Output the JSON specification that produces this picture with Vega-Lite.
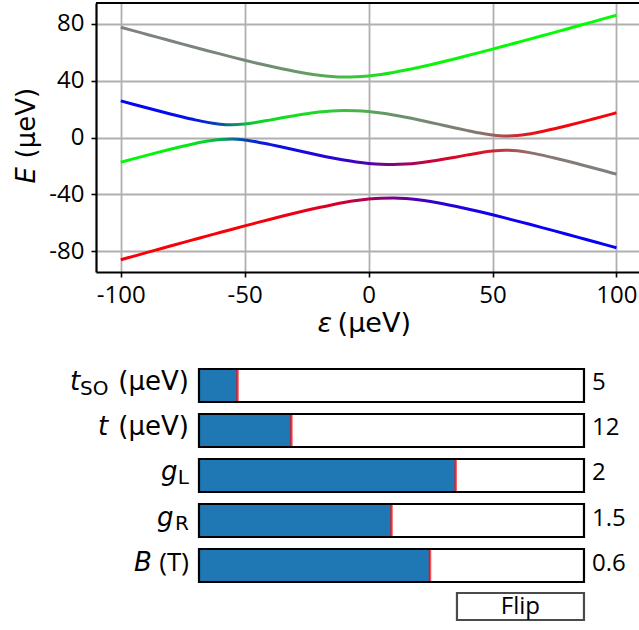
{
  "$schema": "https://vega.github.io/schema/vega-lite/v6.json",
  "padding": {"left": 0, "top": 1, "right": 0, "bottom": 0},
  "spacing": 26,
  "config": {"view": {"stroke": null}, "font": "Open Sans"},
  "datasets": {
    "lines": [
      {"e":-100,"b":1,"E":77.75},{"e":-100,"b":2,"E":25.85},{"e":-100,"b":3,"E":-17.41},{"e":-100,"b":4,"E":-86.19},
      {"e":-95,"b":1,"E":75.34},{"e":-95,"b":2,"E":23.48},{"e":-95,"b":3,"E":-15.06},{"e":-95,"b":4,"E":-83.76},
      {"e":-90,"b":1,"E":72.95},{"e":-90,"b":2,"E":21.14},{"e":-90,"b":3,"E":-12.76},{"e":-90,"b":4,"E":-81.33},
      {"e":-85,"b":1,"E":70.56},{"e":-85,"b":2,"E":18.84},{"e":-85,"b":3,"E":-10.49},{"e":-85,"b":4,"E":-78.91},
      {"e":-80,"b":1,"E":68.19},{"e":-80,"b":2,"E":16.59},{"e":-80,"b":3,"E":-8.28},{"e":-80,"b":4,"E":-76.50},
      {"e":-75,"b":1,"E":65.83},{"e":-75,"b":2,"E":14.43},{"e":-75,"b":3,"E":-6.17},{"e":-75,"b":4,"E":-74.10},
      {"e":-70,"b":1,"E":63.50},{"e":-70,"b":2,"E":12.41},{"e":-70,"b":3,"E":-4.21},{"e":-70,"b":4,"E":-71.71},
      {"e":-65,"b":1,"E":61.19},{"e":-65,"b":2,"E":10.65},{"e":-65,"b":3,"E":-2.52},{"e":-65,"b":4,"E":-69.33},
      {"e":-60,"b":1,"E":58.92},{"e":-60,"b":2,"E":9.39},{"e":-60,"b":3,"E":-1.34},{"e":-60,"b":4,"E":-66.97},
      {"e":-55,"b":1,"E":56.68},{"e":-55,"b":2,"E":8.97},{"e":-55,"b":3,"E":-1.03},{"e":-55,"b":4,"E":-64.62},
      {"e":-50,"b":1,"E":54.50},{"e":-50,"b":2,"E":9.53},{"e":-50,"b":3,"E":-1.72},{"e":-50,"b":4,"E":-62.30},
      {"e":-45,"b":1,"E":52.38},{"e":-45,"b":2,"E":10.74},{"e":-45,"b":3,"E":-3.11},{"e":-45,"b":4,"E":-60.01},
      {"e":-40,"b":1,"E":50.35},{"e":-40,"b":2,"E":12.26},{"e":-40,"b":3,"E":-4.85},{"e":-40,"b":4,"E":-57.76},
      {"e":-35,"b":1,"E":48.44},{"e":-35,"b":2,"E":13.86},{"e":-35,"b":3,"E":-6.75},{"e":-35,"b":4,"E":-55.55},
      {"e":-30,"b":1,"E":46.69},{"e":-30,"b":2,"E":15.40},{"e":-30,"b":3,"E":-8.69},{"e":-30,"b":4,"E":-53.40},
      {"e":-25,"b":1,"E":45.15},{"e":-25,"b":2,"E":16.79},{"e":-25,"b":3,"E":-10.63},{"e":-25,"b":4,"E":-51.32},
      {"e":-20,"b":1,"E":43.92},{"e":-20,"b":2,"E":17.93},{"e":-20,"b":3,"E":-12.50},{"e":-20,"b":4,"E":-49.35},
      {"e":-15,"b":1,"E":43.06},{"e":-15,"b":2,"E":18.70},{"e":-15,"b":3,"E":-14.26},{"e":-15,"b":4,"E":-47.51},
      {"e":-10,"b":1,"E":42.67},{"e":-10,"b":2,"E":19.04},{"e":-10,"b":3,"E":-15.85},{"e":-10,"b":4,"E":-45.86},
      {"e":-5,"b":1,"E":42.79},{"e":-5,"b":2,"E":18.88},{"e":-5,"b":3,"E":-17.21},{"e":-5,"b":4,"E":-44.46},
      {"e":0,"b":1,"E":43.41},{"e":0,"b":2,"E":18.25},{"e":0,"b":3,"E":-18.25},{"e":0,"b":4,"E":-43.41},
      {"e":5,"b":1,"E":44.46},{"e":5,"b":2,"E":17.21},{"e":5,"b":3,"E":-18.88},{"e":5,"b":4,"E":-42.79},
      {"e":10,"b":1,"E":45.86},{"e":10,"b":2,"E":15.85},{"e":10,"b":3,"E":-19.04},{"e":10,"b":4,"E":-42.67},
      {"e":15,"b":1,"E":47.51},{"e":15,"b":2,"E":14.26},{"e":15,"b":3,"E":-18.70},{"e":15,"b":4,"E":-43.06},
      {"e":20,"b":1,"E":49.35},{"e":20,"b":2,"E":12.50},{"e":20,"b":3,"E":-17.93},{"e":20,"b":4,"E":-43.92},
      {"e":25,"b":1,"E":51.32},{"e":25,"b":2,"E":10.63},{"e":25,"b":3,"E":-16.79},{"e":25,"b":4,"E":-45.15},
      {"e":30,"b":1,"E":53.40},{"e":30,"b":2,"E":8.69},{"e":30,"b":3,"E":-15.40},{"e":30,"b":4,"E":-46.69},
      {"e":35,"b":1,"E":55.55},{"e":35,"b":2,"E":6.75},{"e":35,"b":3,"E":-13.86},{"e":35,"b":4,"E":-48.44},
      {"e":40,"b":1,"E":57.76},{"e":40,"b":2,"E":4.85},{"e":40,"b":3,"E":-12.26},{"e":40,"b":4,"E":-50.35},
      {"e":45,"b":1,"E":60.01},{"e":45,"b":2,"E":3.11},{"e":45,"b":3,"E":-10.74},{"e":45,"b":4,"E":-52.38},
      {"e":50,"b":1,"E":62.30},{"e":50,"b":2,"E":1.72},{"e":50,"b":3,"E":-9.53},{"e":50,"b":4,"E":-54.50},
      {"e":55,"b":1,"E":64.62},{"e":55,"b":2,"E":1.03},{"e":55,"b":3,"E":-8.97},{"e":55,"b":4,"E":-56.68},
      {"e":60,"b":1,"E":66.97},{"e":60,"b":2,"E":1.34},{"e":60,"b":3,"E":-9.39},{"e":60,"b":4,"E":-58.92},
      {"e":65,"b":1,"E":69.33},{"e":65,"b":2,"E":2.52},{"e":65,"b":3,"E":-10.65},{"e":65,"b":4,"E":-61.19},
      {"e":70,"b":1,"E":71.71},{"e":70,"b":2,"E":4.21},{"e":70,"b":3,"E":-12.41},{"e":70,"b":4,"E":-63.50},
      {"e":75,"b":1,"E":74.10},{"e":75,"b":2,"E":6.17},{"e":75,"b":3,"E":-14.43},{"e":75,"b":4,"E":-65.83},
      {"e":80,"b":1,"E":76.50},{"e":80,"b":2,"E":8.28},{"e":80,"b":3,"E":-16.59},{"e":80,"b":4,"E":-68.19},
      {"e":85,"b":1,"E":78.91},{"e":85,"b":2,"E":10.49},{"e":85,"b":3,"E":-18.84},{"e":85,"b":4,"E":-70.56},
      {"e":90,"b":1,"E":81.33},{"e":90,"b":2,"E":12.76},{"e":90,"b":3,"E":-21.14},{"e":90,"b":4,"E":-72.95},
      {"e":95,"b":1,"E":83.76},{"e":95,"b":2,"E":15.06},{"e":95,"b":3,"E":-23.48},{"e":95,"b":4,"E":-75.34},
      {"e":100,"b":1,"E":86.19},{"e":100,"b":2,"E":17.41},{"e":100,"b":3,"E":-25.85},{"e":100,"b":4,"E":-77.75}
    ],
    "sliders": [
      {"p":"tSO","v":5,"vmax":50},
      {"p":"t","v":12,"vmax":50},
      {"p":"gL","v":2,"vmax":3},
      {"p":"gR","v":1.5,"vmax":3},
      {"p":"B","v":0.6,"vmax":1}
    ],
    "labels": [
      {"p":"tSO","part":"sym","s":"t"},
      {"p":"tSO","part":"sub","s":"SO"},
      {"p":"tSO","part":"unit","s":"(μeV)"},
      {"p":"t","part":"sym","s":"t"},
      {"p":"t","part":"unit","s":"(μeV)"},
      {"p":"gL","part":"sym","s":"g"},
      {"p":"gL","part":"sub","s":"L"},
      {"p":"gR","part":"sym","s":"g"},
      {"p":"gR","part":"sub","s":"R"},
      {"p":"B","part":"sym","s":"B"},
      {"p":"B","part":"unit","s":"(T)"}
    ],
    "button": [{"p":"Flip","s":"Flip"}]
  },
  "vconcat": [
    {
      "width": 543,
      "height": 269,
      "layer": [
        {
          "data": {"name": "lines"},
          "transform": [{"filter": "datum.b == 1"}],
          "mark": {"type": "line", "strokeWidth": 3, "interpolate": "monotone",
            "stroke": {"gradient": "linear", "x1": 0, "y1": 0, "x2": 1, "y2": 0, "stops": [
              {"offset":0,"color":"#7d827d"},{"offset":0.125,"color":"#7c837c"},{"offset":0.25,"color":"#778877"},
              {"offset":0.35,"color":"#6a956a"},{"offset":0.4,"color":"#5ba45b"},{"offset":0.45,"color":"#43bc43"},
              {"offset":0.5,"color":"#2ad52a"},{"offset":0.55,"color":"#19e619"},{"offset":0.6,"color":"#0ff00f"},
              {"offset":0.65,"color":"#0af50a"},{"offset":0.75,"color":"#05fa05"},{"offset":1,"color":"#02fd02"}]}},
          "encoding": {
            "x": {"field": "e", "type": "quantitative",
              "scale": {"domain": [-110, 109.1], "nice": false, "zero": false},
              "axis": {"values": [-100, -50, 0, 50, 100], "title": null, "grid": true, "gridColor": "#b0b0b0", "gridWidth": 1.8,
                "domainColor": "black", "domainWidth": 2.2, "tickColor": "black", "tickSize": 5, "tickWidth": 1.6,
                "labelFont": "Open Sans", "labelFontSize": 24, "labelColor": "black", "labelPadding": 6,
                "labelFlush": false, "labelOverlap": false,
                "labelExpr": "datum.value < 0 ? '-' + (-datum.value) : '' + datum.value"}},
            "y": {"field": "E", "type": "quantitative",
              "scale": {"domain": [-94.8, 94.8], "nice": false, "zero": false},
              "axis": {"values": [-80, -40, 0, 40, 80], "title": null, "grid": true, "gridColor": "#b0b0b0", "gridWidth": 1.8,
                "domainColor": "black", "domainWidth": 2.2, "tickColor": "black", "tickSize": 5, "tickWidth": 1.6,
                "labelFont": "Open Sans", "labelFontSize": 24, "labelColor": "black", "labelPadding": 7,
                "labelOverlap": false, "minExtent": 96, "maxExtent": 96,
                "labelExpr": "datum.value < 0 ? '-' + (-datum.value) : '' + datum.value"}}
          }
        },
        {
          "data": {"name": "lines"},
          "transform": [{"filter": "datum.b == 2"}],
          "mark": {"type": "line", "strokeWidth": 3, "interpolate": "monotone",
            "stroke": {"gradient": "linear", "x1": 0, "y1": 0, "x2": 1, "y2": 0, "stops": [
              {"offset":0,"color":"#0304f9"},{"offset":0.1,"color":"#040bf0"},{"offset":0.15,"color":"#0519e1"},
              {"offset":0.175,"color":"#062bce"},{"offset":0.2,"color":"#074fab"},{"offset":0.225,"color":"#088477"},
              {"offset":0.25,"color":"#09b448"},{"offset":0.275,"color":"#0bcf2e"},{"offset":0.3,"color":"#0ddb22"},
              {"offset":0.35,"color":"#15df1f"},{"offset":0.4,"color":"#24d529"},{"offset":0.45,"color":"#3cbf3f"},
              {"offset":0.5,"color":"#55a757"},{"offset":0.55,"color":"#679567"},{"offset":0.6,"color":"#728b70"},
              {"offset":0.65,"color":"#7a8373"},{"offset":0.7,"color":"#837a70"},{"offset":0.725,"color":"#8b716b"},
              {"offset":0.75,"color":"#9a615e"},{"offset":0.775,"color":"#b24648"},{"offset":0.8,"color":"#cd2a30"},
              {"offset":0.825,"color":"#e0171e"},{"offset":0.85,"color":"#ea0d14"},{"offset":0.9,"color":"#f3050c"},
              {"offset":1,"color":"#f90206"}]}},
          "encoding": {"x": {"field": "e", "type": "quantitative"}, "y": {"field": "E", "type": "quantitative"}}
        },
        {
          "data": {"name": "lines"},
          "transform": [{"filter": "datum.b == 3"}],
          "mark": {"type": "line", "strokeWidth": 3, "interpolate": "monotone",
            "stroke": {"gradient": "linear", "x1": 0, "y1": 0, "x2": 1, "y2": 0, "stops": [
              {"offset":0,"color":"#02f906"},{"offset":0.1,"color":"#03f10e"},{"offset":0.15,"color":"#05e21d"},
              {"offset":0.175,"color":"#05ce30"},{"offset":0.2,"color":"#06aa53"},{"offset":0.225,"color":"#087487"},
              {"offset":0.25,"color":"#0942b6"},{"offset":0.275,"color":"#0b25d0"},{"offset":0.3,"color":"#0d16dd"},
              {"offset":0.35,"color":"#130ae2"},{"offset":0.4,"color":"#1e06dc"},{"offset":0.45,"color":"#3104cb"},
              {"offset":0.5,"color":"#5403a9"},{"offset":0.55,"color":"#860378"},{"offset":0.6,"color":"#b4044a"},
              {"offset":0.65,"color":"#d0062e"},{"offset":0.7,"color":"#db0c23"},{"offset":0.725,"color":"#d91425"},
              {"offset":0.75,"color":"#cf242e"},{"offset":0.775,"color":"#ba3d41"},{"offset":0.8,"color":"#a25a58"},
              {"offset":0.825,"color":"#916c69"},{"offset":0.85,"color":"#897571"},{"offset":0.9,"color":"#827c78"},
              {"offset":1,"color":"#807f7c"}]}},
          "encoding": {"x": {"field": "e", "type": "quantitative"}, "y": {"field": "E", "type": "quantitative"}}
        },
        {
          "data": {"name": "lines"},
          "transform": [{"filter": "datum.b == 4"}],
          "mark": {"type": "line", "strokeWidth": 3, "interpolate": "monotone",
            "stroke": {"gradient": "linear", "x1": 0, "y1": 0, "x2": 1, "y2": 0, "stops": [
              {"offset":0,"color":"#fc0003"},{"offset":0.125,"color":"#fa0005"},{"offset":0.25,"color":"#f60009"},
              {"offset":0.35,"color":"#ec0013"},{"offset":0.4,"color":"#e1001e"},{"offset":0.45,"color":"#ce0031"},
              {"offset":0.5,"color":"#ab0054"},{"offset":0.55,"color":"#790086"},{"offset":0.6,"color":"#4900b6"},
              {"offset":0.65,"color":"#2b00d4"},{"offset":0.75,"color":"#1100ee"},{"offset":0.875,"color":"#0800f7"},
              {"offset":1,"color":"#0400fb"}]}},
          "encoding": {"x": {"field": "e", "type": "quantitative"}, "y": {"field": "E", "type": "quantitative"}}
        },
        {
          "data": {"values": [{}]},
          "mark": {"type": "rule", "color": "black", "strokeWidth": 2.2},
          "encoding": {"y": {"datum": 94.8, "type": "quantitative"}}
        },
        {
          "data": {"values": [{}]},
          "mark": {"type": "text", "text": "E", "font": "DejaVu Sans", "fontStyle": "italic", "fontSize": 26, "angle": 270,
            "align": "left", "baseline": "alphabetic", "dx": -46, "dy": -61, "color": "black"},
          "encoding": {"x": {"datum": -110, "type": "quantitative"}, "y": {"datum": 0, "type": "quantitative"}}
        },
        {
          "data": {"values": [{}]},
          "mark": {"type": "text", "text": "(μeV)", "font": "DejaVu Sans", "fontSize": 26, "angle": 270,
            "align": "left", "baseline": "alphabetic", "dx": -21, "dy": -61, "color": "black"},
          "encoding": {"x": {"datum": -110, "type": "quantitative"}, "y": {"datum": 0, "type": "quantitative"}}
        },
        {
          "data": {"values": [{}]},
          "mark": {"type": "text", "text": "ε", "font": "DejaVu Sans", "fontStyle": "italic", "fontSize": 27,
            "align": "left", "baseline": "alphabetic", "dx": -51, "dy": 60, "color": "black"},
          "encoding": {"x": {"datum": 0, "type": "quantitative"}, "y": {"datum": -94.8, "type": "quantitative"}}
        },
        {
          "data": {"values": [{}]},
          "mark": {"type": "text", "text": "(μeV)", "font": "DejaVu Sans", "fontSize": 27,
            "align": "left", "baseline": "alphabetic", "dx": -31, "dy": 60, "color": "black"},
          "encoding": {"x": {"datum": 0, "type": "quantitative"}, "y": {"datum": -94.8, "type": "quantitative"}}
        }
      ]
    },
    {
      "width": 543,
      "height": 270,
      "layer": [
        {
          "data": {"name": "sliders"},
          "mark": {"type": "bar", "fill": "white"},
          "encoding": {
            "x": {"datum": 1, "type": "quantitative", "scale": {"domain": [-0.2675, 1.1429], "nice": false, "zero": false}, "axis": null},
            "y": {"field": "p", "type": "nominal",
              "scale": {"domain": ["tSO", "t", "gL", "gR", "B", "Flip"], "paddingInner": 0.2667, "paddingOuter": 0.1333},
              "axis": {"labels": false, "ticks": false, "domain": false, "grid": false, "title": null, "minExtent": 96, "maxExtent": 96}}
          }
        },
        {
          "data": {"name": "sliders"},
          "transform": [{"calculate": "datum.v / datum.vmax", "as": "frac"}],
          "mark": {"type": "bar", "color": "#1f77b4"},
          "encoding": {"x": {"field": "frac", "type": "quantitative"}, "y": {"field": "p", "type": "nominal"}}
        },
        {
          "data": {"name": "sliders"},
          "transform": [{"calculate": "datum.v / datum.vmax", "as": "frac"}],
          "mark": {"type": "tick", "color": "red", "thickness": 2.5, "size": 33},
          "encoding": {"x": {"field": "frac", "type": "quantitative"}, "y": {"field": "p", "type": "nominal"}}
        },
        {
          "data": {"name": "sliders"},
          "mark": {"type": "bar", "fillOpacity": 0, "stroke": "black", "strokeWidth": 2.2},
          "encoding": {"x": {"datum": 1, "type": "quantitative"}, "y": {"field": "p", "type": "nominal"}}
        },
        {
          "data": {"name": "sliders"},
          "mark": {"type": "text", "font": "Open Sans", "fontSize": 24, "align": "left", "baseline": "alphabetic", "dx": 8, "dy": 5, "color": "black"},
          "encoding": {"x": {"datum": 1, "type": "quantitative"}, "y": {"field": "p", "type": "nominal"}, "text": {"field": "v", "type": "nominal"}}
        },
        {
          "data": {"name": "labels"},
          "transform": [{"filter": "datum.part == 'unit' && datum.p != 'B'"}],
          "mark": {"type": "text", "font": "DejaVu Sans", "fontSize": 26, "align": "right", "baseline": "alphabetic", "dx": -10, "dy": 5, "color": "black"},
          "encoding": {"x": {"datum": 0, "type": "quantitative"}, "y": {"field": "p", "type": "nominal"}, "text": {"field": "s", "type": "nominal"}}
        },
        {
          "data": {"name": "labels"},
          "transform": [{"filter": "datum.part == 'unit' && datum.p == 'B'"}],
          "mark": {"type": "text", "font": "Open Sans", "fontSize": 26, "align": "right", "baseline": "alphabetic", "dx": -10, "dy": 5, "color": "black"},
          "encoding": {"x": {"datum": 0, "type": "quantitative"}, "y": {"field": "p", "type": "nominal"}, "text": {"field": "s", "type": "nominal"}}
        },
        {
          "data": {"name": "labels"},
          "transform": [{"filter": "datum.part == 'sub' && datum.p != 'tSO'"}],
          "mark": {"type": "text", "font": "DejaVu Sans", "fontSize": 20, "align": "right", "baseline": "alphabetic", "dx": -10, "dy": 9, "color": "black"},
          "encoding": {"x": {"datum": 0, "type": "quantitative"}, "y": {"field": "p", "type": "nominal"}, "text": {"field": "s", "type": "nominal"}}
        },
        {
          "data": {"name": "labels"},
          "transform": [{"filter": "datum.part == 'sub' && datum.p == 'tSO'"}],
          "mark": {"type": "text", "font": "DejaVu Sans", "fontSize": 20, "align": "left", "baseline": "alphabetic", "dx": -119, "dy": 10, "color": "black"},
          "encoding": {"x": {"datum": 0, "type": "quantitative"}, "y": {"field": "p", "type": "nominal"}, "text": {"field": "s", "type": "nominal"}}
        },
        {
          "data": {"name": "labels"},
          "transform": [{"filter": "datum.part == 'sym' && datum.p == 'tSO'"}],
          "mark": {"type": "text", "font": "DejaVu Sans", "fontStyle": "italic", "fontSize": 26, "align": "left", "baseline": "alphabetic", "dx": -129, "dy": 5, "color": "black"},
          "encoding": {"x": {"datum": 0, "type": "quantitative"}, "y": {"field": "p", "type": "nominal"}, "text": {"field": "s", "type": "nominal"}}
        },
        {
          "data": {"name": "labels"},
          "transform": [{"filter": "datum.part == 'sym' && datum.p == 't'"}],
          "mark": {"type": "text", "font": "DejaVu Sans", "fontStyle": "italic", "fontSize": 26, "align": "left", "baseline": "alphabetic", "dx": -101, "dy": 5, "color": "black"},
          "encoding": {"x": {"datum": 0, "type": "quantitative"}, "y": {"field": "p", "type": "nominal"}, "text": {"field": "s", "type": "nominal"}}
        },
        {
          "data": {"name": "labels"},
          "transform": [{"filter": "datum.part == 'sym' && datum.p == 'gL'"}],
          "mark": {"type": "text", "font": "DejaVu Sans", "fontStyle": "italic", "fontSize": 26, "align": "left", "baseline": "alphabetic", "dx": -38, "dy": 5, "color": "black"},
          "encoding": {"x": {"datum": 0, "type": "quantitative"}, "y": {"field": "p", "type": "nominal"}, "text": {"field": "s", "type": "nominal"}}
        },
        {
          "data": {"name": "labels"},
          "transform": [{"filter": "datum.part == 'sym' && datum.p == 'gR'"}],
          "mark": {"type": "text", "font": "DejaVu Sans", "fontStyle": "italic", "fontSize": 26, "align": "left", "baseline": "alphabetic", "dx": -42, "dy": 5, "color": "black"},
          "encoding": {"x": {"datum": 0, "type": "quantitative"}, "y": {"field": "p", "type": "nominal"}, "text": {"field": "s", "type": "nominal"}}
        },
        {
          "data": {"name": "labels"},
          "transform": [{"filter": "datum.part == 'sym' && datum.p == 'B'"}],
          "mark": {"type": "text", "font": "DejaVu Sans", "fontStyle": "italic", "fontSize": 26, "align": "left", "baseline": "alphabetic", "dx": -65, "dy": 5, "color": "black"},
          "encoding": {"x": {"datum": 0, "type": "quantitative"}, "y": {"field": "p", "type": "nominal"}, "text": {"field": "s", "type": "nominal"}}
        },
        {
          "data": {"name": "button"},
          "mark": {"type": "tick", "fill": "white", "stroke": "black", "strokeWidth": 2.2, "thickness": 127, "size": 27, "yOffset": -4},
          "encoding": {"x": {"datum": 0.835, "type": "quantitative"}, "y": {"field": "p", "type": "nominal"}}
        },
        {
          "data": {"name": "button"},
          "mark": {"type": "text", "font": "Open Sans", "fontSize": 24, "align": "center", "baseline": "middle", "dy": 0, "yOffset": -4, "color": "black"},
          "encoding": {"x": {"datum": 0.835, "type": "quantitative"}, "y": {"field": "p", "type": "nominal"}, "text": {"field": "s", "type": "nominal"}}
        }
      ]
    }
  ]
}
